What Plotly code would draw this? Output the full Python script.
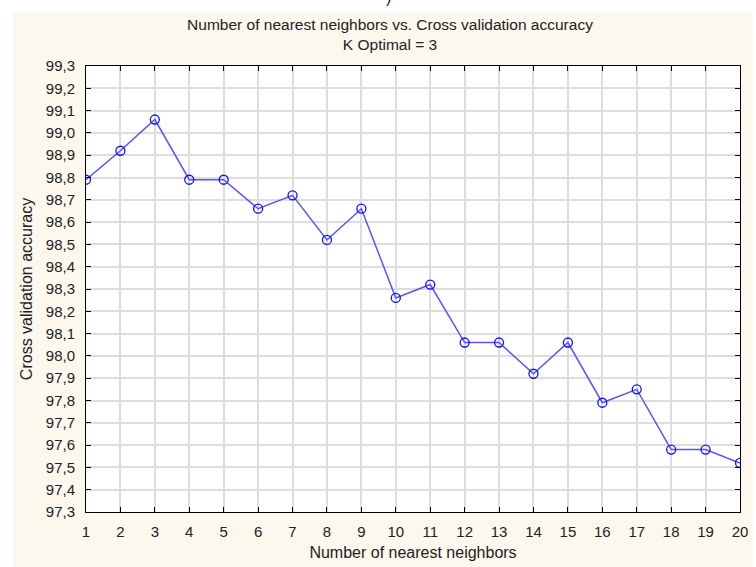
import plotly.graph_objects as go

k_values = list(range(1, 21))
accuracy = [98.79, 98.92, 99.06, 98.79, 98.79, 98.66, 98.72, 98.52, 98.66, 98.26,
            98.32, 98.06, 98.06, 97.92, 98.06, 97.79, 97.85, 97.58, 97.58, 97.52]
y_ticks = [round(97.3 + 0.1 * i, 1) for i in range(21)]

W, H = 756, 567
L, R, T, B = 86, 8, 66, 55
pw, ph = W - L - R, H - T - B

def px_x(p):
    return (p - L) / pw

def px_y(p):
    return (H - B - p) / ph

fig = go.Figure()
fig.add_trace(go.Scatter(
    x=k_values, y=accuracy, mode="lines+markers",
    line=dict(color="#5555FF", width=1.5),
    marker=dict(symbol="circle-open", size=9, color="#1010FF", line=dict(width=1.3)),
    cliponaxis=True, showlegend=False,
))

fig.add_shape(type="rect", xref="paper", yref="paper", layer="below",
              x0=px_x(12), x1=px_x(W + 5), y0=px_y(H + 5), y1=px_y(12),
              fillcolor="#FDF8EE", line=dict(width=0))
fig.add_shape(type="rect", xref="paper", yref="paper", layer="below",
              x0=0, x1=1, y0=0, y1=1, fillcolor="white", line=dict(width=0))

fig.add_annotation(text=")", xref="paper", yref="paper", x=px_x(392), y=px_y(-3),
                   xanchor="center", yanchor="middle",
                   showarrow=False, font=dict(family="Arial, Liberation Sans", size=16, color="#222"))

text_color = "#222222"
fig.update_layout(
    width=W, height=H,
    margin=dict(l=L, r=R, t=T, b=B, pad=0),
    paper_bgcolor="white", plot_bgcolor="rgba(0,0,0,0)",
    separators=",.",
    title=dict(text="Number of nearest neighbors vs. Cross validation accuracy<br>K Optimal = 3",
               x=390 / W, xanchor="center", xref="container",
               y=1 - 30 / H, yanchor="middle", yref="container",
               font=dict(family="Arial, Liberation Sans", size=15.5, color=text_color)),
    xaxis=dict(range=[1, 20], tickmode="array", tickvals=k_values, ticks="inside", ticklen=5,
               tickcolor="black", showline=True, linecolor="black", linewidth=1, mirror="allticks",
               showgrid=True, gridcolor="#DDDDDD", gridwidth=1.5, zeroline=False,
               tickfont=dict(family="Arial, Liberation Sans", size=15, color=text_color),
               ticklabelstandoff=6, ticklabeloverflow="allow",
               title=dict(text="Number of nearest neighbors", standoff=7,
                          font=dict(family="Arial, Liberation Sans", size=16, color=text_color))),
    yaxis=dict(range=[97.3, 99.3], tickmode="array", tickvals=y_ticks, tickformat=".1f",
               ticks="inside", ticklen=5, tickcolor="black", showline=True, linecolor="black",
               linewidth=1, mirror="allticks", showgrid=True, gridcolor="#DDDDDD", gridwidth=1.5,
               zeroline=False,
               tickfont=dict(family="Arial, Liberation Sans", size=15, color=text_color),
               ticklabelstandoff=7,
               title=dict(text="Cross validation accuracy", standoff=9,
                          font=dict(family="Arial, Liberation Sans", size=16, color=text_color))),
)

fig.write_html("out.html", config={"displayModeBar": False},
               post_script=["document.body.style.margin='0px';"])
